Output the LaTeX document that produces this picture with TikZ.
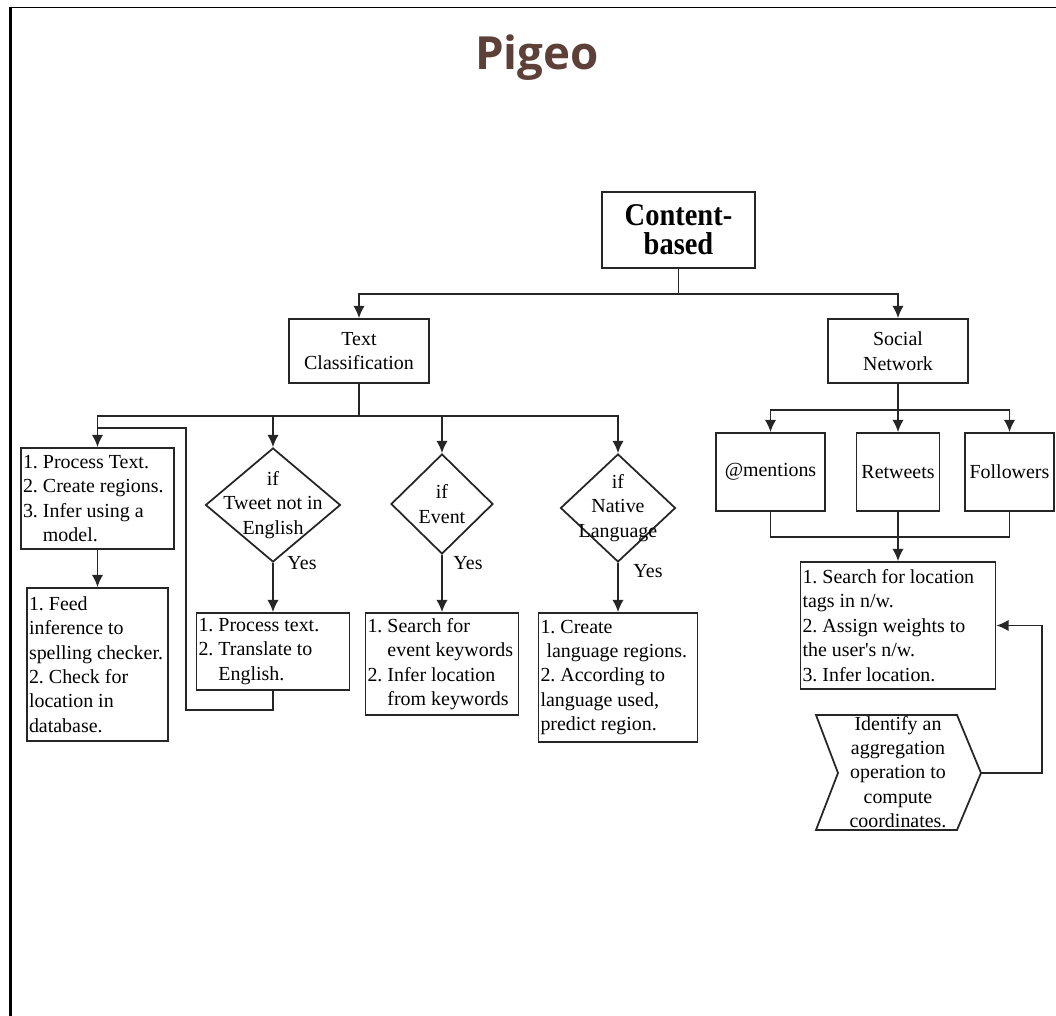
\documentclass[tikz,border=0pt]{standalone}
\usepackage{fontspec}
\setmainfont{Liberation Serif}
\newfontfamily\titlefont{Open Sans}
\newfontfamily\headfont{Liberation Serif}[FakeStretch=0.9]
\usetikzlibrary{shapes.geometric,arrows.meta}
\frenchspacing

\definecolor{pigeobrown}{HTML}{5D4037}
\newcommand{\pix}{0.02cm}

\tikzset{
  every node/.style={font=\fontsize{11.35}{13.9}\selectfont},
  box/.style={draw=black!85, line width=1pt, inner sep=0pt, align=center},
  lbox/.style={box, align=flush left, inner xsep=.04cm},
  cond/.style={draw=black!85, line width=1pt, diamond, inner sep=0pt},
  link/.style={draw=black!85, line width=1pt},
}

\begin{document}
\begin{tikzpicture}[>={Latex[length=7pt,width=6.5pt]}, x=\pix, y=-\pix]

    \useasboundingbox (0,0) rectangle (1056,1016);

    % frame
    \draw[line width=1.1pt] (10,7.5) -- (1056,7.5);
    \draw[line width=1.7pt] (10.5,7) -- (10.5,1016);

    \node[font=\titlefont\bfseries\fontsize{26}{30}\selectfont, text=pigeobrown, anchor=base] (title) at (537,70) {Pigeo};

    % top levels
    \node[box, minimum width=3.06cm, minimum height=1.52cm, font=\headfont\bfseries\fontsize{18}{16.5}\selectfont] (cb) at (678.5,230) {Content-\\based};
    \node[box, minimum width=2.8cm, minimum height=1.28cm] (tc) at (359,351) {Text\\Classification};
    \node[box, minimum width=2.8cm, minimum height=1.28cm] (sn) at (898,351) {Social\\Network};

    \draw[link] (cb.south) -- ++(0,25) coordinate (cbj);
    \draw[link,->] (cbj) -| (tc.north);
    \draw[link,->] (cbj) -| (sn.north);

    % text classification
    \node[lbox, text width=2.98cm, minimum height=2.02cm] (p1) at (97.5,498.5) {1. Process Text.\\2. Create regions.\\3. Infer using a\\\phantom{3. }model.};
    \node[lbox, text width=2.74cm, minimum height=3.06cm] (p2) at (97.5,664.5) {1. Feed\\inference to\\spelling checker.\\2. Check for\\location in\\database.};

    \node[cond, minimum width=2.7cm, minimum height=2.28cm] (d1) at (273,505) {};
    \node[align=center] (d1t) at (d1) {if\\Tweet not in\\English};
    \node[lbox, text width=2.98cm, minimum height=1.54cm] (t1) at (273,651.5) {1. Process text.\\2. Translate to\\\phantom{2. }English.};

    \node[cond, minimum width=2.04cm, minimum height=2cm] (d2) at (442,504) {};
    \node[align=center] (d2t) at (d2) {if\\Event};
    \node[lbox, text width=2.98cm, minimum height=2.04cm] (t2) at (442,664) {1. Search for\\\phantom{1. }event keywords\\2. Infer location\\\phantom{2. }from keywords};

    \node[cond, minimum width=2.3cm, minimum height=2.16cm] (d3) at (618,508) {};
    \node[align=center] (d3t) at (d3) {if\\Native\\Language};
    \node[lbox, text width=3.1cm, minimum height=2.58cm] (t3) at (618,677.5) {1. Create\\\hspace*{.3em}language regions.\\2. According to\\language used,\\predict region.};

    \node (y1) at (302,563) {Yes};
    \node (y2) at (468,563) {Yes};
    \node (y3) at (648,571) {Yes};

    \draw[link] (tc.south) -- ++(0,32) coordinate (tcj);
    \foreach \n in {p1,d1,d2,d3}
        \draw[link,->] (tcj) -| (\n.north);

    \draw[link,->] (p1.south) -- (p2.north);
    \draw[link,->] (d1.south) -- (t1.north);
    \draw[link,->] (d2.south) -- (t2.north);
    \draw[link,->] (d3.south) -- (t3.north);

    % back to first box
    \coordinate (back) at (186,428);
    \draw[link] (t1.south) -- ++(0,19) -| (back) -- (back -| p1.north);

    % social network
    \node[box, minimum width=2.18cm, minimum height=1.56cm] (m1) at (770.5,472) {@mentions};
    \node[box, minimum width=1.66cm, minimum height=1.56cm] (m2) at (898,472) {Retweets};
    \node[box, minimum width=1.78cm, minimum height=1.56cm] (m3) at (1009.5,472) {Followers};

    \draw[link] (sn.south) -- ++(0,26) coordinate (snj);
    \foreach \n in {m1,m2,m3}
        \draw[link,->] (snj) -| (\n.north);

    \node[lbox, text width=3.82cm, minimum height=2.54cm] (s1) at (898,625.5) {1. Search for location\\tags in n/w.\\2. Assign weights to\\the user\textquotesingle s n/w.\\3. Infer location.};

    \draw[link] (m1.south) -- ++(0,25) -| (m3.south);
    \draw[link,->] (m2.south) -- (s1.north);

    % aggregation step
    \node[align=center] (ag) at (898,772) {Identify an\\aggregation\\operation to\\compute\\coordinates.};
    \draw[link] (816,715) -- (957,715) -- (981,773) coordinate (agtip) -- (957,830) -- (816,830) -- (838,773) -- cycle;
    \draw[link,->] (agtip) -- ++(61,0) |- (s1.east);

\end{tikzpicture}
\end{document}
